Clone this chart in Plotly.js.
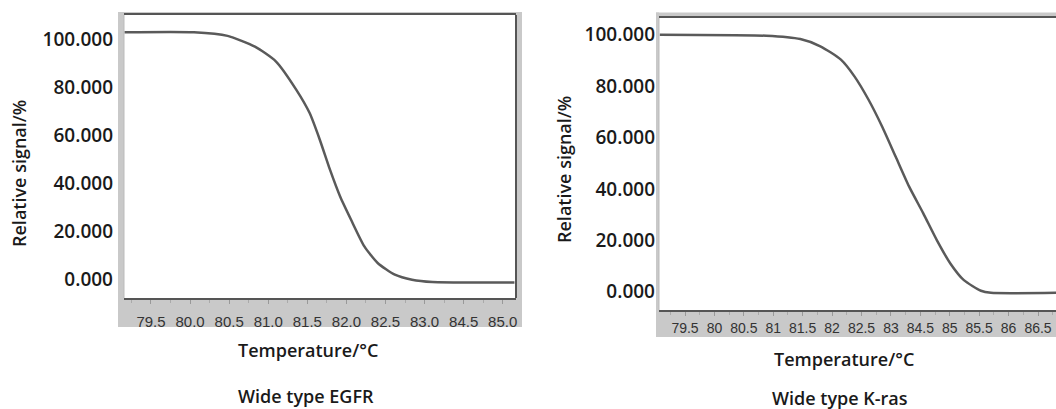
<!DOCTYPE html>
<html>
<head>
<meta charset="utf-8">
<script src="https://cdn.plot.ly/plotly-3.0.1.min.js"></script>
<style>html,body{margin:0;padding:0;background:#fff;}#chart{width:1056px;height:409px;}</style>
</head>
<body>
<div id="chart"></div>
<script>
// ---- data ----
// x values are positions on the drawn (label-indexed) temperature axis
const egfrX = [79.16, 80.05, 80.48, 80.83, 81.10, 81.36, 81.53, 81.66, 81.79, 81.92, 82.06, 82.23, 82.40, 82.62, 82.84, 83.10, 84.15];
const egfrSignal = [102.9, 102.9, 101.4, 96.9, 90.7, 78.9, 69.2, 58.1, 45.6, 34.4, 24.7, 13.6, 6.7, 1.8, -0.3, -1.25, -1.4];

const krasX = [79.07, 80.88, 81.46, 81.80, 82.15, 82.38, 82.62, 82.85, 83.08, 83.31, 83.55, 83.78, 84.01, 84.24, 84.53, 84.70, 85.81];
const krasSignal = [100, 99.6, 98.3, 95.5, 90.3, 83.8, 74.7, 64.3, 52.6, 40.9, 30.5, 20.1, 11.0, 4.5, 0.4, -0.4, -0.4];

const egfrTickPos = [79.5, 80.0, 80.5, 81.0, 81.5, 82.0, 82.5, 83.0, 83.5, 84.0];
const egfrTickLabels = ["79.5", "80.0", "80.5", "81.0", "81.5", "82.0", "82.5", "83.0", "84.5", "85.0"];
const krasTickPos = [79.5, 80.0, 80.5, 81.0, 81.5, 82.0, 82.5, 83.0, 83.5, 84.0, 84.5, 85.0, 85.5];
const krasTickLabels = ["79.5", "80", "80.5", "81", "81.5", "82", "82.5", "83", "84.5", "85", "85.5", "86", "86.5"];

const yTickVals = [0, 20, 40, 60, 80, 100];
const yTickLabels = ["0.000", "20.000", "40.000", "60.000", "80.000", "100.000"];

const yTitle = "Relative signal/%";
const xTitle = "Temperature/°C";
const captions = ["Wide type EGFR", "Wide type K-ras"];

// ---- layout helpers (pixel -> paper) ----
const W = 1056, H = 409;
const px = v => v / W;
const py = v => 1 - v / H;

const GRAY = '#c9c9c9';
const LINE = '#555555';
const textFont = {family: 'Open Sans, Noto Sans, sans-serif', size: 19, color: '#1a1a1a', weight: 600};
const tickFontX = {family: 'Liberation Sans, Arial, sans-serif', size: 15, color: '#333'};

function grayRect(x0, y0, x1, y1) {
  return {type: 'rect', xref: 'paper', yref: 'paper', x0: px(x0), x1: px(x1), y0: py(y1), y1: py(y0),
          fillcolor: GRAY, line: {width: 0}, layer: 'below'};
}

const traces = [
  {x: egfrX, y: egfrSignal, xaxis: 'x', yaxis: 'y', mode: 'lines',
   line: {color: '#5a5a5a', width: 2.5, shape: 'spline', smoothing: 0.6}, hoverinfo: 'skip'},
  {x: krasX, y: krasSignal, xaxis: 'x2', yaxis: 'y2', mode: 'lines',
   line: {color: '#5a5a5a', width: 2.5, shape: 'spline', smoothing: 0.6}, hoverinfo: 'skip'}
];

const xCommon = {
  tickmode: 'array', showgrid: false, zeroline: false,
  showline: true, linecolor: LINE, linewidth: 2, mirror: true,
  ticks: 'outside', ticklen: 4, tickcolor: '#999', tickwidth: 1,
  minor: {dtick: 0.25, tick0: 79.5, ticks: 'outside', ticklen: 3, tickcolor: '#aaa', showgrid: false},
  tickfont: tickFontX, fixedrange: true
};
const yCommon = {
  tickmode: 'array', tickvals: yTickVals, ticktext: yTickLabels,
  showgrid: false, zeroline: false, showline: false, ticks: '',
  tickfont: textFont, fixedrange: true
};

const titleFont = Object.assign({}, textFont, {size: 18});

const layout = {
  width: W, height: H,
  margin: {l: 0, r: 0, t: 0, b: 0},
  paper_bgcolor: '#ffffff', plot_bgcolor: '#ffffff',
  showlegend: false,
  xaxis: Object.assign({}, xCommon, {domain: [px(124), px(516)], range: [79.155, 84.17], anchor: 'y',
          tickvals: egfrTickPos, ticktext: egfrTickLabels, ticklabelstandoff: 5}),
  yaxis: Object.assign({}, yCommon, {domain: [py(298), py(15)], range: [-7.9, 110.1], anchor: 'x',
          ticklabelstandoff: 10}),
  xaxis2: Object.assign({}, xCommon, {domain: [px(659), 1], range: [79.058, 85.806], anchor: 'y2',
          tickvals: krasTickPos, ticktext: krasTickLabels, ticklabelstandoff: 0,
          tickfont: Object.assign({}, tickFontX, {size: 14})}),
  yaxis2: Object.assign({}, yCommon, {domain: [py(310), py(18)], range: [-7.1, 106.5], anchor: 'x2',
          ticklabelstandoff: 3}),
  shapes: [
    grayRect(118, 12, 522, 15),
    grayRect(118, 12, 124, 327),
    grayRect(516, 12, 522, 327),
    grayRect(118, 298, 522, 327),
    {type: 'line', xref: 'paper', yref: 'paper', x0: px(516), x1: px(516), y0: py(298), y1: py(15),
     line: {color: LINE, width: 2}},
    {type: 'line', xref: 'paper', yref: 'paper', x0: px(124), x1: px(124), y0: py(298), y1: py(15),
     line: {color: '#bbbbbb', width: 1}},
    grayRect(656, 12.5, 1056, 17),
    grayRect(656, 12.5, 659, 337),
    grayRect(656, 310, 1056, 337),
    {type: 'line', xref: 'paper', yref: 'paper', x0: px(659), x1: px(659), y0: py(310), y1: py(18),
     line: {color: '#bbbbbb', width: 1}}
  ],
  annotations: [
    {text: yTitle, xref: 'paper', yref: 'paper', x: px(19), y: py(174), textangle: -90,
     showarrow: false, xanchor: 'center', yanchor: 'middle', font: titleFont},
    {text: yTitle, xref: 'paper', yref: 'paper', x: px(564), y: py(170), textangle: -90,
     showarrow: false, xanchor: 'center', yanchor: 'middle', font: titleFont},
    {text: xTitle, xref: 'paper', yref: 'paper', x: px(308), y: py(350),
     showarrow: false, xanchor: 'center', yanchor: 'middle', font: titleFont},
    {text: xTitle, xref: 'paper', yref: 'paper', x: px(844), y: py(359),
     showarrow: false, xanchor: 'center', yanchor: 'middle', font: titleFont},
    {text: captions[0], xref: 'paper', yref: 'paper', x: px(306), y: py(396),
     showarrow: false, xanchor: 'center', yanchor: 'middle', font: titleFont},
    {text: captions[1], xref: 'paper', yref: 'paper', x: px(840), y: py(398),
     showarrow: false, xanchor: 'center', yanchor: 'middle', font: titleFont}
  ]
};

Plotly.newPlot('chart', traces, layout, {displayModeBar: false, staticPlot: true});
</script>
</body>
</html>
